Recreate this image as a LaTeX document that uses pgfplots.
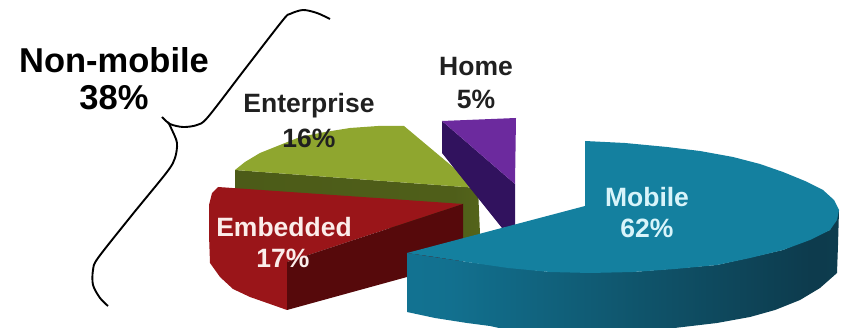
\documentclass[border=0pt]{standalone}
\usepackage{pgfplots}
\pgfplotsset{compat=1.18}
\usepackage{fontspec}
\setmainfont{Liberation Sans}
\definecolor{oliveTop}{HTML}{8FA62F}
\definecolor{redTop}{HTML}{9A1519}
\definecolor{redSide}{HTML}{56090B}
\definecolor{purpleTop}{HTML}{6C2A9E}
\definecolor{purpleSide}{HTML}{31125E}
\definecolor{tealTop}{HTML}{14809F}
\definecolor{labelDark}{HTML}{202020}
\definecolor{labelTeal}{HTML}{D8F4FA}
\definecolor{labelRed}{HTML}{FBEDEA}
% Rim of the Mobile slice: light at the cut face, darkest towards the far right
\pgfdeclarehorizontalshading{mobilerim}{100bp}{
  rgb(0bp)=(0.08,0.49,0.62);
  rgb(30bp)=(0.07,0.44,0.56);
  rgb(52bp)=(0.06,0.33,0.42);
  rgb(72bp)=(0.05,0.23,0.30);
  rgb(100bp)=(0.07,0.29,0.36)}
\pgfdeclarehorizontalshading{enterpriserim}{100bp}{
  rgb(0bp)=(0.29,0.35,0.09);
  rgb(70bp)=(0.31,0.37,0.10);
  rgb(100bp)=(0.42,0.49,0.11)}
\newcommand{\sizelabel}{\fontsize{26.5}{30}\selectfont\bfseries}
\begin{document}
\begin{tikzpicture}
\useasboundingbox (0,0) rectangle (841pt,328pt);
\begin{axis}[
  at={(0,0)}, anchor=south west,
  hide axis, scale only axis, width=841pt, height=328pt,
  xmin=0, xmax=841, ymin=0, ymax=328, y dir=reverse,
  every axis plot/.append style={no markers, forget plot},
]
% Enterprise, 16%
\addplot[shading=enterpriserim, draw=none] coordinates {
  (235,170) (478,188) (480,234) (463,242) (235,200)};
\addplot[fill=oliveTop, draw=none] coordinates {
  (235,170) (245,162) (260,153) (280,145) (300,137) (325,132) (350,128)
  (378,126) (404,126) (478,188)};
% Home, 5%
\addplot[fill=purpleSide, draw=none] coordinates {
  (442,121) (515,184) (515,226) (502,228) (442,153)};
\addplot[fill=purpleTop, draw=none] coordinates {
  (442,121) (516,118) (515,184)};
% Embedded, 17%
\addplot[fill=redTop, draw=none] coordinates {
  (218,187) (463,204) (287,262) (287,310) (270,304) (250,297) (233,289)
  (220,277) (210,263) (209,235) (209,205) (212,193)};
\addplot[fill=redSide, draw=none] coordinates {
  (463,204) (287,262) (287,310) (407,277) (463,262)};
% Mobile, 62%
\addplot[shading=mobilerim, draw=none] coordinates {
  (407,253) (467,262) (550,272) (633,272) (717,265) (783,250) (830,230)
  (839,210) (838,245) (837,273) (820,288) (800,300) (775,310) (750,317)
  (717,323) (683,327) (640,332) (517,332) (490,326) (467,323) (435,318)
  (407,312)};
\addplot[fill=tealTop, draw=none] coordinates {
  (585,141) (625,143) (667,147) (700,151) (733,157) (760,164) (783,172)
  (805,181) (823,190) (834,200) (839,210) (837,220) (830,230) (810,240)
  (783,250) (750,258) (717,265) (675,269) (633,272) (590,273) (550,272)
  (508,268) (467,262) (435,257) (407,253) (585,206)};
% Brace gathering the non-mobile slices
\addplot[black, line width=1.9pt, smooth, tension=0.5] coordinates {
  (330,19) (317,13) (303,10) (290,14) (283,20) (245,69) (208,117) (197,125)
  (183,127) (170,124) (162,117)};
\addplot[black, line width=1.9pt, smooth, tension=0.5] coordinates {
  (168,122) (172,130) (177,143) (175,158) (167,172) (132,215) (98,258) (93,270)
  (93,285) (100,298) (108,306)};
% Slice labels
\node[text=labelDark] at (axis cs:309,106) {\sizelabel Enterprise};
\node[text=labelDark] at (axis cs:309,138) {\sizelabel 16\%};
\node[text=labelRed] at (axis cs:284,227) {\sizelabel Embedded};
\node[text=labelRed] at (axis cs:283,258) {\sizelabel 17\%};
\node[text=labelDark] at (axis cs:476,67) {\sizelabel Home};
\node[text=labelDark] at (axis cs:476,99) {\sizelabel 5\%};
\node[text=labelTeal] at (axis cs:647,197) {\sizelabel Mobile};
\node[text=labelTeal] at (axis cs:647,228) {\sizelabel 62\%};
\node[text=black] at (axis cs:114,60) {\fontsize{34.5}{38}\selectfont\bfseries Non-mobile};
\node[text=black] at (axis cs:114,98) {\fontsize{34.5}{38}\selectfont\bfseries 38\%};
\end{axis}
\end{tikzpicture}
\end{document}
